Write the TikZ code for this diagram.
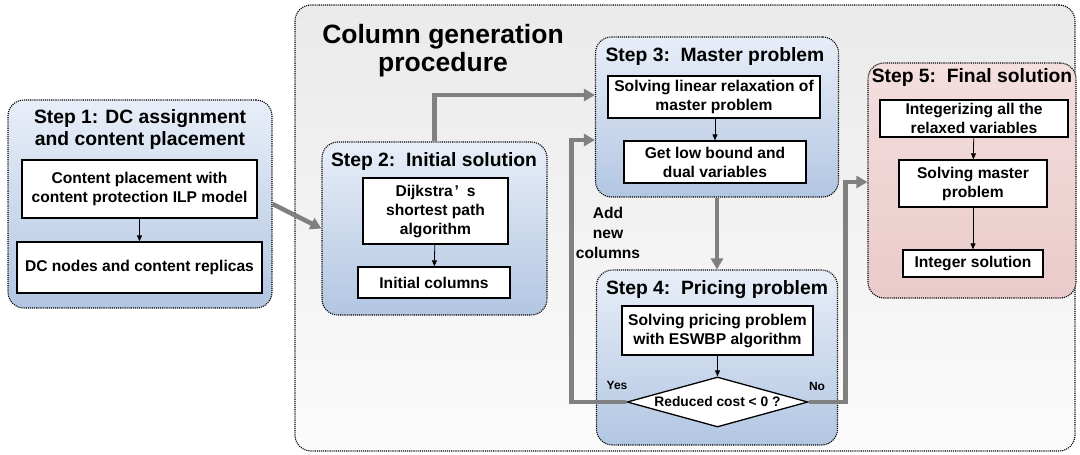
\documentclass[tikz,border=0pt]{standalone}
\usepackage{fontspec}
\setmainfont{Liberation Sans}
\usetikzlibrary{shapes.geometric,arrows.meta,calc}
\definecolor{bluetop}{RGB}{232,238,248}
\definecolor{bluebot}{RGB}{178,198,226}
\definecolor{pinktop}{RGB}{244,222,222}
\definecolor{pinkbot}{RGB}{234,202,202}
\definecolor{graytop}{RGB}{234,234,234}
\definecolor{graybot}{RGB}{251,251,251}
\definecolor{arrowgray}{RGB}{128,128,128}
\tikzset{
  container/.style={draw=black, densely dotted, line width=1.1pt, rounded corners=16pt, inner sep=0pt},
  bluebox/.style={container, top color=bluetop, bottom color=bluebot},
  pinkbox/.style={container, top color=pinktop, bottom color=pinkbot},
  graybox/.style={container, top color=graytop, bottom color=graybot},
  inbox/.style={draw=black, fill=white, line width=1.3pt, inner sep=0pt, align=center,
    font=\fontsize{15.6}{19}\selectfont\bfseries},
  steptitle/.style={align=center, inner sep=0pt, font=\fontsize{19.3}{21.5}\selectfont\bfseries},
  thin arrow/.style={draw=black, line width=0.8pt, -{Triangle[length=6pt,width=5pt]}},
  big arrow/.style={draw=arrowgray, line width=4.5pt, -{Triangle[length=11pt,width=12pt]}},
  lbl/.style={inner sep=0pt, align=center, font=\fontsize{15.6}{20}\selectfont\bfseries},
}
\begin{document}
\begin{tikzpicture}[x=1pt,y=-1pt]
\useasboundingbox (0,0) rectangle (1080,455);

% outer container
\node[graybox, minimum width=780pt, minimum height=446pt] (outer) at (685,228) {};
\node[inner sep=0pt, align=center, font=\fontsize{26.5}{28}\selectfont\bfseries] (cgtitle) at (443,51) {Column generation\\procedure};

% step boxes
\node[bluebox, minimum width=264pt, minimum height=208pt] (s1) at (140,204) {};
\node[bluebox, minimum width=225pt, minimum height=173pt] (s2) at (434.5,228.5) {};
\node[bluebox, minimum width=243pt, minimum height=160pt] (s3) at (717,117) {};
\node[bluebox, minimum width=241pt, minimum height=175pt] (s4) at (717,357.5) {};
\node[pinkbox, minimum width=208pt, minimum height=235pt] (s5) at (972,180.5) {};

% titles
\node[steptitle] (t1) at (140,129.5) {Step 1: DC assignment\\and content placement};
\node[steptitle] (t2) at (434,162) {Step 2:\ \ Initial solution};
\node[steptitle] (t3) at (715,57) {Step 3:\ \ Master problem};
\node[steptitle] (t4) at (717,290) {Step 4:\ \ Pricing problem};
\node[steptitle] (t5) at (972,78) {Step 5:\ \ Final solution};

% inner boxes
\node[inbox, minimum width=235pt, minimum height=58pt] (b11) at (139.5,189) {Content placement with\\content protection ILP model};
\node[inbox, minimum width=245pt, minimum height=51pt] (b12) at (139.5,267.5) {DC nodes and content replicas};
\node[inbox, minimum width=145pt, minimum height=66pt] (b21) at (435.5,211) {Dijkstra\hspace{0.12em}’\hspace{0.5em}s\\shortest path\\algorithm};
\node[inbox, minimum width=152pt, minimum height=31pt] (b22) at (434,282.5) {Initial columns};
\node[inbox, minimum width=212pt, minimum height=42pt] (b31) at (714,97) {Solving linear relaxation of\\master problem};
\node[inbox, minimum width=182pt, minimum height=42pt] (b32) at (715,162) {Get low bound and\\dual variables};
\node[inbox, minimum width=191pt, minimum height=49pt] (b41) at (717.5,330.5) {Solving pricing problem\\with ESWBP algorithm};
\node[inbox, diamond, aspect=3.6, minimum width=181pt, minimum height=50pt, font=\fontsize{13.8}{16}\selectfont\bfseries] (d) at (717.5,402) {Reduced cost < 0 ?};
\node[inbox, minimum width=188pt, minimum height=37pt] (b51) at (974,118.5) {Integerizing all the\\relaxed variables};
\node[inbox, minimum width=148pt, minimum height=47pt] (b52) at (973,183.5) {Solving master\\problem};
\node[inbox, minimum width=140pt, minimum height=27pt] (b53) at (973,263.5) {Integer solution};

% thin arrows
\draw[thin arrow] (b11) -- (b12);
\draw[thin arrow] (b21) -- (b22);
\draw[thin arrow] (b31.south -| b32.north) -- (b32.north);
\draw[thin arrow] (b41.south -| d.north) -- (d.north);
\draw[thin arrow] (b51) -- (b52);
\draw[thin arrow] (b52) -- (b53);

% big arrows
\draw[big arrow] (s1.east) -- (s2.west);
\draw[big arrow] (s2.north) |- ($(s3.west)+(0,-22)$);
\draw[big arrow] (d.west) -- ++(-55,0) |- ($(s3.west)+(0,23)$);
\draw[big arrow] (s3.south) -- (s4.north);
\draw[big arrow] (d.east) -- ++(37,0) |- ($(s5.west)+(0,1.5)$);

% labels
\node[lbl] (add) at (608,233) {Add\\new\\columns};
\node[inner sep=0pt, font=\fontsize{12}{13}\selectfont\bfseries] (yes) at (617,385) {Yes};
\node[inner sep=0pt, font=\fontsize{12}{13}\selectfont\bfseries] (no) at (817,386) {No};
\end{tikzpicture}
\end{document}
